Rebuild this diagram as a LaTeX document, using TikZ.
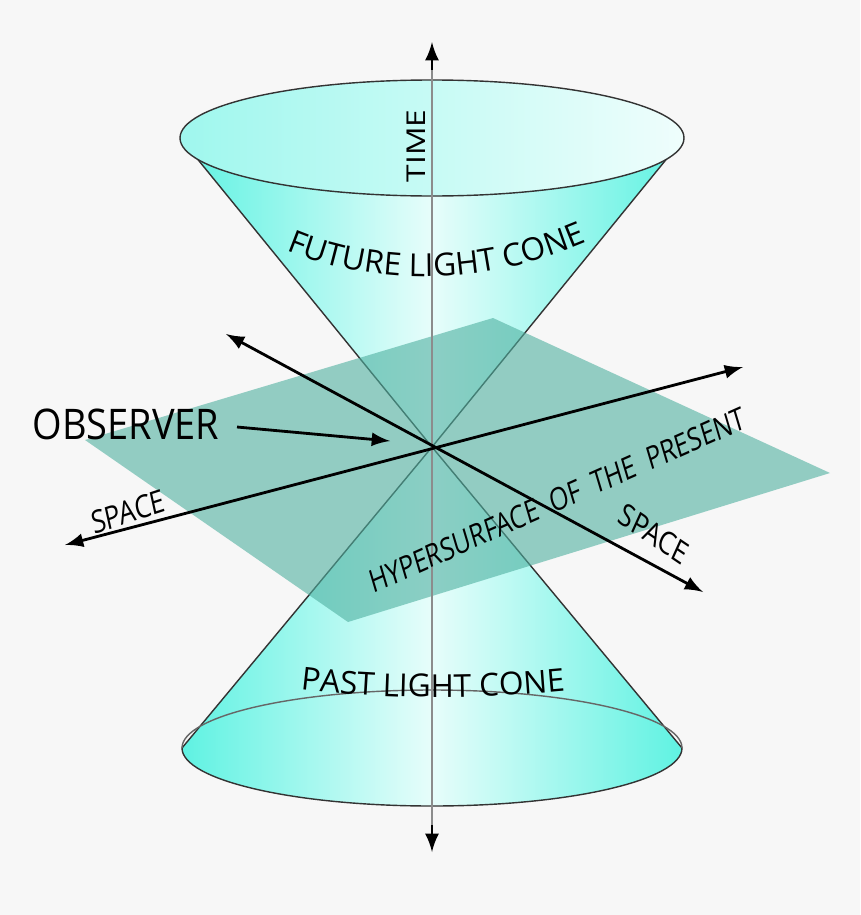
\documentclass[tikz,border=0pt]{standalone}
\usepackage{fontspec}
\setmainfont{Open Sans}
\usetikzlibrary{decorations.text}
\definecolor{bgcol}{HTML}{F7F7F7}
\definecolor{conecol}{HTML}{5FF2E2}
\definecolor{planecol}{HTML}{4FB0A0}
\tikzset{
  axis/.style={thick,black,<->,>=latex},
  label/.style={font=\small,xscale=0.82},
  cone/.style={draw=black!80,thin,left color=conecol,right color=conecol,middle color=white!85!conecol}
}
\begin{document}
\begin{tikzpicture}[x=0.01cm,y=-0.01cm]
\fill[bgcol] (0,0) rectangle (860,915);
\useasboundingbox (0,0) rectangle (860,915);
% past cone
\shade[cone] (182,748) -- (432,447) -- (682,748) arc (0:180:250 and 58) -- cycle;
\draw[black!60,thin] (682,748) arc (0:-180:250 and 58);
% future cone
\shade[cone] (182,140) -- (432,447) -- (682,140) -- cycle;
\shade[left color=conecol!60!white,right color=white!90!conecol,draw=black!80,thin] (432,138) ellipse (252 and 58);
% plane
\fill[planecol,opacity=0.6] (85,440) -- (493,318) -- (830,473) -- (348,622) -- cycle;
% time axis
\coordinate (ttop) at (432,42);
\coordinate (tbot) at (432,852);
\draw[thick,->,>=latex] (432,70) -- (ttop);
\draw[thick,->,>=latex] (432,825) -- (tbot);
\draw[black!45] (432,70) -- (432,825);
% space axes
\coordinate (s1a) at (65,545);
\coordinate (s1b) at (743,367);
\coordinate (s2a) at (226,334);
\coordinate (s2b) at (703,592);
\draw[axis] (s1a) -- (s1b);
\draw[axis] (s2a) -- (s2b);
% labels
\node[label,rotate=90] (time) at (416,146) {TIME};
\path[decorate,decoration={text along path,text align=center,
  text={|\small|FUTURE LIGHT CONE}}] (282,248) .. controls (380,290) and (490,285) .. (592,240);
\path[decorate,decoration={text along path,text align=center,
  text={|\small|PAST LIGHT CONE}}] (290,688) .. controls (380,700) and (480,700) .. (576,690);
\node[label,rotate=15] (space1) at (128,512) {SPACE};
\node[label,rotate=-29] (space2) at (654,534) {SPACE};
\node[label,rotate=20,xscale=0.95] (hyper) at (557,500) {HYPERSURFACE\ \ OF\ \ THE\ \ PRESENT};
\node[font=\large,xscale=0.9] (obs) at (126,424) {OBSERVER};
\coordinate (obsend) at (390,441);
\draw[thick,->,>=latex] (237,427) -- (obsend);
\end{tikzpicture}
\end{document}
